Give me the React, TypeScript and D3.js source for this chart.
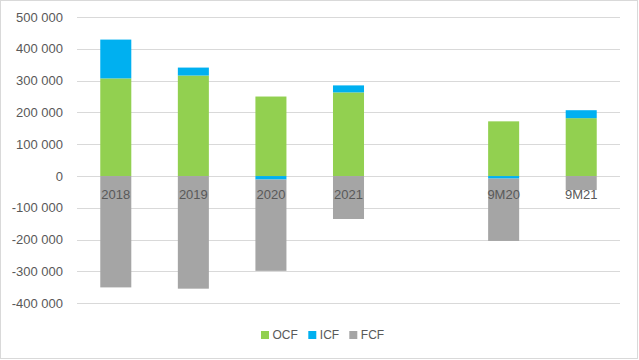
import React from "react";
import * as d3 from "d3";

const categories = ["2018", "2019", "2020", "2021", "", "9M20", "9M21"];
const seriesNames = ["OCF", "ICF", "FCF"];
const ocf = [307000, 316000, 250000, 263000, 0, 172000, 182000];
const icf = [122000, 25000, -11000, 22000, 0, -8000, 25000];
const fcf = [-350000, -354000, -287000, -135000, 0, -196000, -44000];
const yTicks = [-400000, -300000, -200000, -100000, 0, 100000, 200000, 300000, 400000, 500000];
const colors = ["#92D050", "#00B0F0", "#A5A5A5"];

const W = 639;
const H = 360;
const FONT = "'Liberation Sans', Arial, sans-serif";

export default function App() {
  const rows = categories.map((c, i) => ({ key: String(i), cat: c, OCF: ocf[i], ICF: icf[i], FCF: fcf[i] }));
  const stacked = d3
    .stack<any>()
    .keys(seriesNames)
    .offset(d3.stackOffsetDiverging)(rows);

  const x = d3
    .scaleBand<string>()
    .domain(rows.map((r) => r.key))
    .range([77, 620])
    .paddingInner(0.6)
    .paddingOuter(0.3);
  const y = d3.scaleLinear().domain([-400000, 500000]).range([303.3, 17]);

  const fmt = (v: number) => d3.format(",")(v).replace(/,/g, " ").replace("−", "-");

  const legendX = [261, 308.3, 349.3];

  return (
    <svg width={W} height={H} style={{ position: "absolute", left: 0, top: 0 }} fontFamily={FONT}>
      <rect x={0} y={0} width={W} height={H} fill="#ffffff" />
      <rect x={0.5} y={0.5} width={W - 2} height={H - 2} fill="none" stroke="#D9D9D9" strokeWidth={1} />
      {yTicks.map((t) => (
        <g key={t}>
          <line x1={77} x2={620} y1={Math.round(y(t)) + 0.5} y2={Math.round(y(t)) + 0.5} stroke="#D9D9D9" strokeWidth={1} />
          <text x={63} y={y(t)} dy="0.35em" textAnchor="end" fontSize={13} fill="#595959">
            {fmt(t)}
          </text>
        </g>
      ))}
      {stacked.map((s, si) => (
        <g key={s.key} fill={colors[si]}>
          {s.map((d, i) => {
            const top = y(Math.max(d[0], d[1]));
            const bot = y(Math.min(d[0], d[1]));
            if (bot - top <= 0) return null;
            return <rect key={i} x={x(rows[i].key)} width={x.bandwidth()} y={top} height={bot - top} />;
          })}
        </g>
      ))}
      {rows.map((r) => (
        <text
          key={r.key}
          x={(x(r.key) as number) + x.bandwidth() / 2}
          y={199}
          textAnchor="middle"
          fontSize={13}
          fill="#595959"
        >
          {r.cat}
        </text>
      ))}
      {seriesNames.map((n, i) => (
        <g key={n}>
          <rect x={legendX[i]} y={331} width={8} height={8} fill={colors[i]} />
          <text x={legendX[i] + 11.5} y={339} fontSize={12} fill="#595959">
            {n}
          </text>
        </g>
      ))}
    </svg>
  );
}
